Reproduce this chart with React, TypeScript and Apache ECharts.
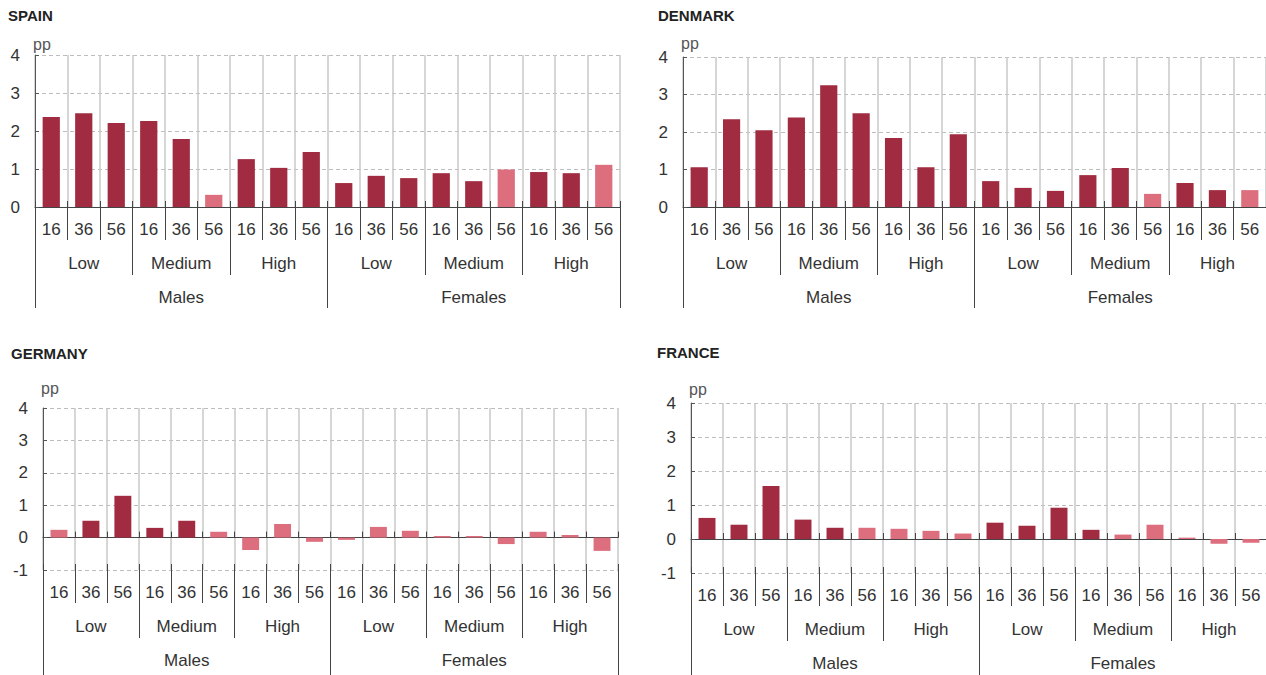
import React, { useEffect, useRef } from 'react';
import * as echarts from 'echarts';

const ageLabels = ['16', '36', '56', '16', '36', '56', '16', '36', '56', '16', '36', '56', '16', '36', '56', '16', '36', '56'];
const educationLabels = ['Low', 'Medium', 'High', 'Low', 'Medium', 'High'];
const sexLabels = ['Males', 'Females'];
const yTicks = [-1, 0, 1, 2, 3, 4];

// values in pp; order: Males Low(16,36,56), Medium, High, Females Low, Medium, High
const spainValues = [2.37, 2.47, 2.21, 2.26, 1.79, 0.32, 1.26, 1.03, 1.45, 0.63, 0.82, 0.76, 0.89, 0.68, 0.99, 0.92, 0.89, 1.11];
const spainSignificant = [1, 1, 1, 1, 1, 0, 1, 1, 1, 1, 1, 1, 1, 1, 0, 1, 1, 0];

const denmarkValues = [1.06, 2.34, 2.05, 2.39, 3.25, 2.5, 1.84, 1.06, 1.94, 0.69, 0.51, 0.43, 0.85, 1.04, 0.35, 0.64, 0.45, 0.45];
const denmarkSignificant = [1, 1, 1, 1, 1, 1, 1, 1, 1, 1, 1, 1, 1, 1, 0, 1, 1, 0];

const germanyValues = [0.24, 0.52, 1.29, 0.3, 0.52, 0.18, -0.38, 0.42, -0.13, -0.07, 0.33, 0.21, 0.05, 0.05, -0.2, 0.18, 0.08, -0.41];
const germanySignificant = [0, 1, 1, 1, 1, 0, 0, 0, 0, 0, 0, 0, 0, 0, 0, 0, 0, 0];

const franceValues = [0.62, 0.42, 1.56, 0.57, 0.33, 0.33, 0.3, 0.24, 0.16, 0.48, 0.39, 0.92, 0.27, 0.13, 0.42, 0.04, -0.14, -0.11];
const franceSignificant = [1, 1, 1, 1, 1, 0, 0, 0, 0, 1, 1, 1, 1, 0, 0, 0, 0, 0];

const DARK = '#A12B40';
const LIGHT = '#DC6E7E';
const FONT = '"Liberation Sans", Arial, Helvetica, sans-serif';

const panels = [
  { title: 'SPAIN', values: spainValues, sig: spainSignificant, left: 35, top: 55, width: 585, height: 152, min: 0, tx: 8, ty: 8, nameGap: 11, bottomLen: 101 },
  { title: 'DENMARK', values: denmarkValues, sig: denmarkSignificant, left: 683, top: 57, width: 583, height: 150, min: 0, tx: 658, ty: 8, nameGap: 14, bottomLen: 101 },
  { title: 'GERMANY', values: germanyValues, sig: germanySignificant, left: 43, top: 408, width: 575, height: 162, min: -1, tx: 11, ty: 346, nameGap: 20, bottomLen: 106 },
  { title: 'FRANCE', values: franceValues, sig: franceSignificant, left: 691, top: 403, width: 576, height: 170, min: -1, tx: 657, ty: 345, nameGap: 14, bottomLen: 106 },
];

function buildOption() {
  const grid: any[] = [];
  const xAxis: any[] = [];
  const yAxis: any[] = [];
  const series: any[] = [];
  const title: any[] = [];
  const tickColor = '#444';

  panels.forEach((p, i) => {
    title.push({
      text: p.title,
      left: p.tx,
      top: p.ty,
      padding: 0,
      textStyle: { fontSize: 15, fontWeight: 'bold', color: '#222', fontFamily: FONT },
    });
    grid.push({ left: p.left, top: p.top, width: p.width, height: p.height, containLabel: false, outerBoundsMode: 'none' });
    // zero-line axis carrying the bars
    xAxis.push({
      type: 'category',
      gridIndex: i,
      data: ageLabels,
      position: 'bottom',
      axisLine: { show: true, onZero: true, lineStyle: { color: tickColor, width: 1.2 } },
      axisTick: { show: true, inside: true, length: 6, interval: 0, lineStyle: { color: tickColor } },
      axisLabel: { show: false },
      splitLine: { show: true, interval: 0, lineStyle: { color: '#c8c8c8', width: 1.5 } },
    });
    // age labels
    xAxis.push({
      type: 'category',
      gridIndex: i,
      data: ageLabels,
      position: 'bottom',
      offset: -6,
      axisLine: { show: false, onZero: false },
      axisTick: { show: true, length: 39, interval: 0, lineStyle: { color: tickColor } },
      axisLabel: { show: true, interval: 0, margin: 28, verticalAlign: 'middle', fontSize: 17, color: '#333', fontFamily: FONT },
      splitLine: { show: false },
    });
    // education labels
    xAxis.push({
      type: 'category',
      gridIndex: i,
      data: educationLabels,
      position: 'bottom',
      axisLine: { show: false, onZero: false },
      axisTick: { show: true, length: 68, interval: 0, lineStyle: { color: tickColor } },
      axisLabel: { show: true, interval: 0, margin: 56, verticalAlign: 'middle', fontSize: 17, color: '#333', fontFamily: FONT },
      splitLine: { show: false },
    });
    // sex labels
    xAxis.push({
      type: 'category',
      gridIndex: i,
      data: sexLabels,
      position: 'bottom',
      axisLine: { show: false, onZero: false },
      axisTick: { show: true, length: p.bottomLen, interval: 0, lineStyle: { color: tickColor } },
      axisLabel: { show: true, interval: 0, margin: 90, verticalAlign: 'middle', fontSize: 17, color: '#333', fontFamily: FONT },
      splitLine: { show: false },
    });
    yAxis.push({
      type: 'value',
      gridIndex: i,
      min: p.min,
      max: yTicks[yTicks.length - 1],
      interval: 1,
      name: 'pp',
      nameLocation: 'end',
      nameGap: p.nameGap,
      nameTextStyle: { align: 'left', verticalAlign: 'middle', fontSize: 16, color: '#555', fontFamily: FONT, padding: [0, 0, 0, -2] },
      axisLine: { show: true, onZero: false, lineStyle: { color: '#555' } },
      axisTick: { show: true, inside: true, length: 4, lineStyle: { color: '#555' } },
      axisLabel: { fontSize: 17, color: '#333', margin: 15, fontFamily: FONT },
      splitLine: { show: true, lineStyle: { type: [4, 3], color: '#bdbdbd', width: 1 } },
    });
    series.push({
      type: 'bar',
      xAxisIndex: i * 4,
      yAxisIndex: i,
      barWidth: '53%',
      data: p.values.map((v, k) => ({ value: v, itemStyle: { color: p.sig[k] ? DARK : LIGHT } })),
    });
  });

  return {
    animation: false,
    backgroundColor: '#ffffff',
    textStyle: { fontFamily: FONT },
    title,
    grid,
    xAxis,
    yAxis,
    series,
  };
}

export default function App() {
  const ref = useRef<HTMLDivElement>(null);
  useEffect(() => {
    if (!ref.current) return;
    const chart = echarts.init(ref.current, null, { renderer: 'svg' });
    chart.setOption(buildOption() as any);
    return () => chart.dispose();
  }, []);
  return <div ref={ref} style={{ position: 'absolute', left: 0, top: 0, width: 1266, height: 675 }} />;
}
